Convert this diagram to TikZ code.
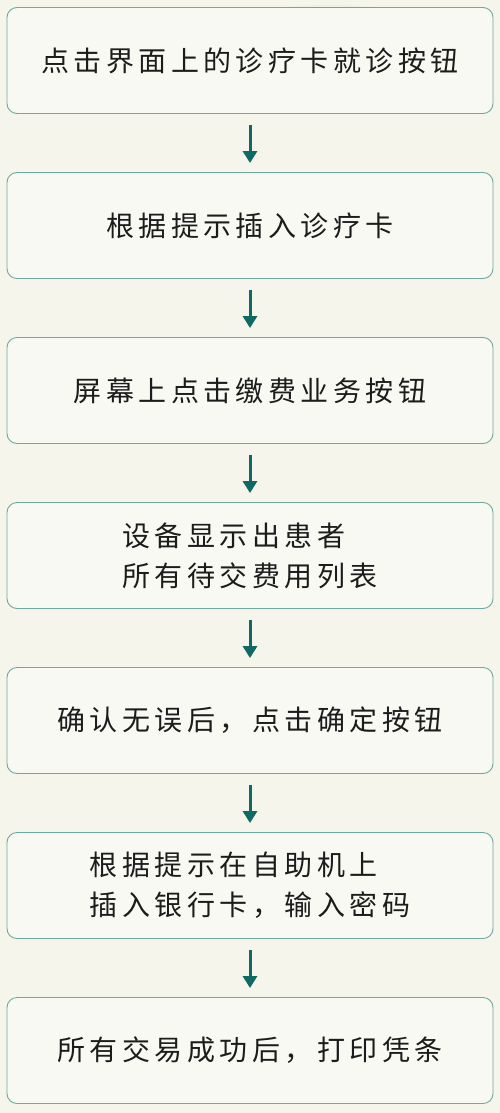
\documentclass[tikz,border=0pt]{standalone}
\usepackage{fontspec}
\newfontfamily\cjk[LetterSpace=16]{Noto Sans CJK SC}
\usetikzlibrary{arrows.meta}
\definecolor{bgcol}{HTML}{F5F5EC}
\definecolor{boxfill}{HTML}{F9F9F4}
\definecolor{boxline}{HTML}{6FA8A0}
\definecolor{arrowcol}{HTML}{0F6A66}
\definecolor{txtcol}{HTML}{1C1C1C}
\tikzset{
  stepbox/.style={draw=boxline, line width=0.9pt, fill=boxfill, rounded corners=10pt,
    minimum width=486pt, minimum height=106pt, inner sep=0pt, align=left,
    text=txtcol, font=\cjk\fontsize{28}{40}\selectfont},
  flowarrow/.style={draw=arrowcol, line width=3pt,
    -{Triangle[width=14pt,length=12pt]}, shorten <=11pt, shorten >=9pt}
}
\begin{document}
\begin{tikzpicture}[x=1pt,y=-1pt]
\fill[bgcol] (0,0) rectangle (500,1113);
\useasboundingbox (0,0) rectangle (500,1113);
% faint watercolor smudges
\fill[green!35!olive!25, opacity=0.25] (330,15) ellipse (70pt and 10pt);
\fill[green!35!olive!25, opacity=0.2] (120,95) ellipse (60pt and 8pt);
\fill[green!35!olive!25, opacity=0.2] (340,1095) ellipse (50pt and 8pt);
\node[stepbox] (b1) at (250,60.5) {点击界面上的诊疗卡就诊按钮};
\node[stepbox] (b2) at (250,225.5) {根据提示插入诊疗卡};
\node[stepbox] (b3) at (250,390.5) {屏幕上点击缴费业务按钮};
\node[stepbox] (b4) at (250,555.5) {设备显示出患者\\所有待交费用列表};
\node[stepbox] (b5) at (250,720.5) {确认无误后，点击确定按钮};
\node[stepbox] (b6) at (250,885.5) {根据提示在自助机上\\插入银行卡，输入密码};
\node[stepbox] (b7) at (250,1050.5) {所有交易成功后，打印凭条};
\draw[flowarrow] (b1) -- (b2);
\draw[flowarrow] (b2) -- (b3);
\draw[flowarrow] (b3) -- (b4);
\draw[flowarrow] (b4) -- (b5);
\draw[flowarrow] (b5) -- (b6);
\draw[flowarrow] (b6) -- (b7);
\end{tikzpicture}
\end{document}
